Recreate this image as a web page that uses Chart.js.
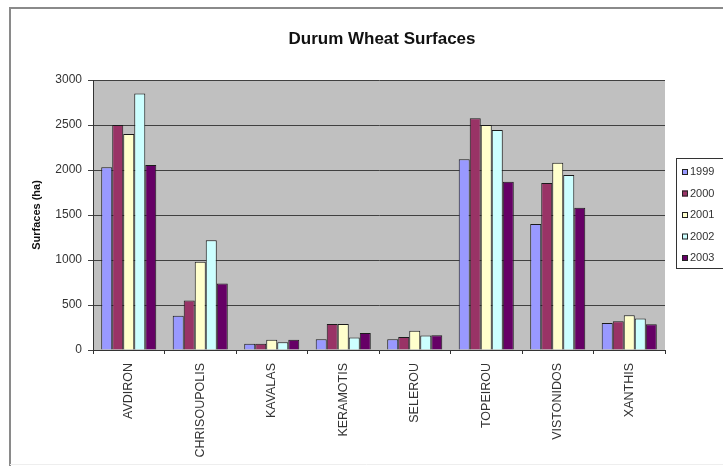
<!DOCTYPE html>
<html>
<head>
<meta charset="utf-8">
<script src="https://cdn.jsdelivr.net/npm/chart.js@4/dist/chart.umd.min.js"></script>
<style>
  html, body { margin: 0; padding: 0; background: #fff; }
  #wrap { width: 723px; height: 468px; }
</style>
</head>
<body>
<div id="wrap"><canvas id="myChart" width="723" height="468"></canvas></div>
<script>
const areas = ['AVDIRON', 'CHRISOUPOLIS', 'KAVALAS', 'KERAMOTIS', 'SELEROU', 'TOPEIROU', 'VISTONIDOS', 'XANTHIS'];
const years = ['1999', '2000', '2001', '2002', '2003'];

const v1999 = [2030, 380, 70, 120, 120, 2120, 1400, 300];
const v2000 = [2500, 550, 70, 290, 145, 2575, 1855, 320];
const v2001 = [2400, 980, 115, 290, 215, 2500, 2080, 385];
const v2002 = [2850, 1220, 85, 140, 160, 2445, 1945, 350];
const v2003 = [2055, 740, 115, 190, 165, 1870, 1580, 285];

const yTicks = [0, 500, 1000, 1500, 2000, 2500, 3000];

const fills = ['#9999FF', '#993366', '#FFFFCC', '#CCFFFF', '#660066'];

const font = 'Liberation Sans, Arial, sans-serif';

const ctx = document.getElementById('myChart').getContext('2d');

// white page, frame round the chart and grey plot area
const backdrop = {
	id: 'backdrop',
	afterLayout(chart) {
		// centre the title over the plot area, not over the padded box
		const t = chart.titleBlock;
		if (t) {
			const shift = (chart.chartArea.left + chart.chartArea.right) / 2 - (t.left + t.right) / 2 + 3;
			t.left += shift;
			t.right += shift;
		}
	},
	beforeDraw(chart) {
		const c = chart.ctx;
		const a = chart.chartArea;
		c.save();
		c.fillStyle = '#fff';
		c.fillRect(0, 0, chart.width, chart.height);
		c.strokeStyle = '#8a8a8a';
		c.lineWidth = 2;
		c.beginPath();
		c.moveTo(10, 466);
		c.lineTo(10, 8);
		c.lineTo(723, 8);
		c.stroke();
		c.strokeStyle = '#eeeeee';
		c.lineWidth = 1;
		c.beginPath();
		c.moveTo(10, 464.5);
		c.lineTo(723, 464.5);
		c.stroke();
		c.fillStyle = '#C0C0C0';
		c.fillRect(a.left, a.top, a.right - a.left, a.bottom - a.top);
		c.restore();
	}
};

// legend box on the right, like the Excel one
const sideLegend = {
	id: 'sideLegend',
	afterDraw(chart) {
		const c = chart.ctx;
		c.save();
		c.fillStyle = '#fff';
		c.fillRect(676, 158, 50, 110);
		c.strokeStyle = '#333';
		c.lineWidth = 1;
		c.strokeRect(676.5, 158.5, 50, 110);
		c.font = '11px ' + font;
		c.textBaseline = 'middle';
		chart.data.datasets.forEach((ds, i) => {
			const y = 172 + i * 21.5;
			c.fillStyle = ds.backgroundColor;
			c.fillRect(682, y - 3, 6, 6);
			c.strokeStyle = '#222';
			c.strokeRect(682.5, y - 2.5, 5, 5);
			c.fillStyle = '#333';
			c.fillText(ds.label, 690, y);
		});
		c.restore();
	}
};

const series = [v1999, v2000, v2001, v2002, v2003];

let myBarChart = new Chart(ctx, {
	type: 'bar',
	data: {
		labels: areas,
		datasets: series.map((vals, i) => ({
			label: years[i],
			data: vals,
			backgroundColor: fills[i],
			borderColor: '#1a1a1a',
			borderWidth: 1,
			categoryPercentage: 0.77,
			barPercentage: 1
		}))
	},
	options: {
		responsive: false,
		animation: false,
		layout: {
			padding: { left: 30, right: 58, top: 10, bottom: 10 }
		},
		plugins: {
			legend: { display: false },
			tooltip: { enabled: false },
			title: {
				display: true,
				text: 'Durum Wheat Surfaces',
				color: '#111',
				font: { family: font, size: 17, weight: 'bold' },
				padding: { top: 19, bottom: 30.6 }
			}
		},
		scales: {
			x: {
				grid: {
					display: true,
					drawOnChartArea: false,
					color: '#333',
					tickLength: 4
				},
				border: { color: '#333', width: 1 },
				ticks: {
					color: '#333',
					font: { family: font, size: 12.5 },
					minRotation: 90,
					maxRotation: 90,
					padding: 9,
					autoSkip: false
				},
				afterFit(scale) { scale.height = 108; }
			},
			y: {
				min: 0,
				max: 3000,
				afterBuildTicks(scale) {
					scale.ticks = yTicks.map(v => ({ value: v }));
				},
				grid: {
					color: '#404040',
					lineWidth: 1,
					tickLength: 5
				},
				border: { color: '#333', width: 1 },
				ticks: {
					color: '#333',
					font: { family: font, size: 12 },
					padding: 6,
					callback: v => String(v)
				},
				title: {
					display: true,
					text: 'Surfaces (ha)',
					color: '#111',
					font: { family: font, size: 11, weight: 'bold' },
					padding: { top: 0, bottom: 8 }
				},
				afterFit(scale) { scale.width = 63; }
			}
		}
	},
	plugins: [backdrop, sideLegend]
});
</script>
</body>
</html>
